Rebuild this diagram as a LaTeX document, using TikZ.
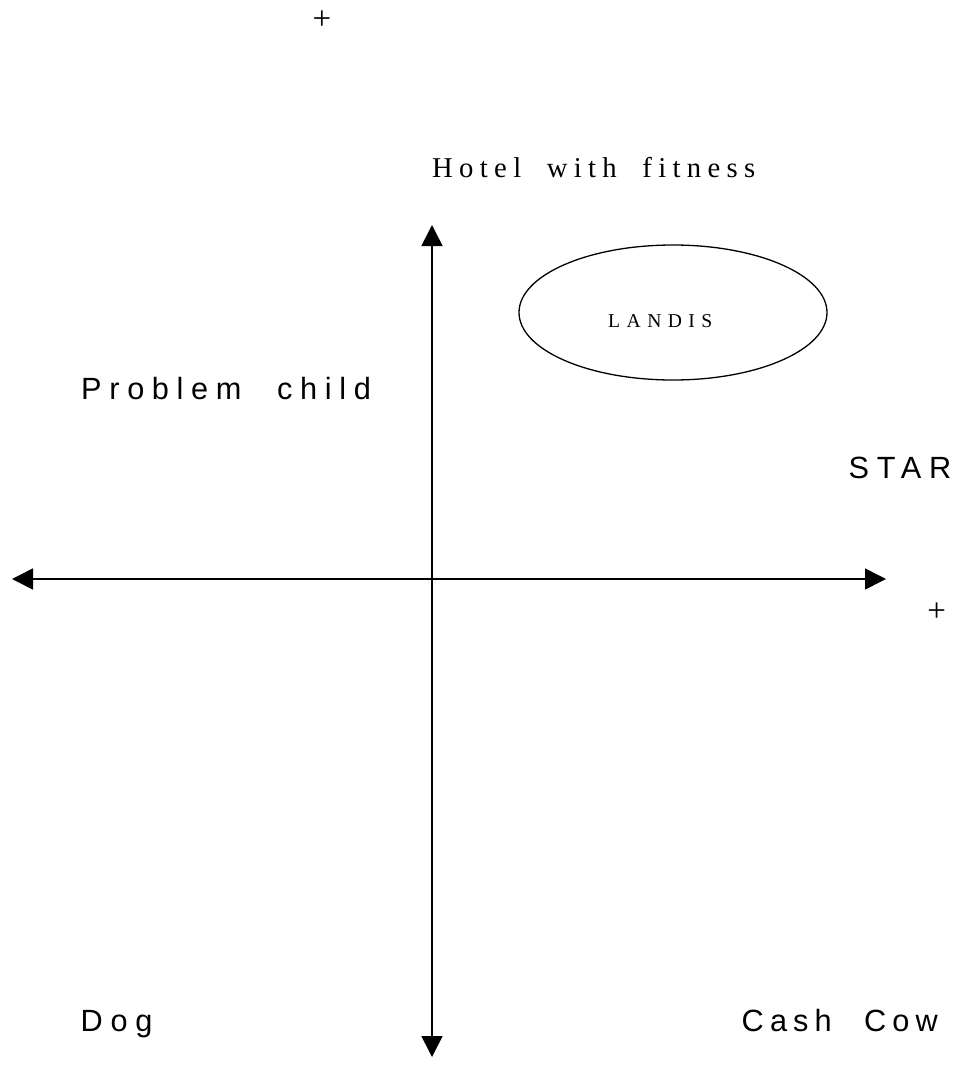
\documentclass[tikz,border=0pt]{standalone}
\usepackage{fontspec}
\setmainfont{Liberation Serif}
\newfontfamily\axisfont[LetterSpace=25,WordSpace=2.2]{Liberation Sans}
\newfontfamily\cowfont[LetterSpace=20,WordSpace=2.2]{Liberation Sans}
\newfontfamily\titlefont[LetterSpace=22,WordSpace=1.9]{Liberation Serif}
\newfontfamily\brandfont[LetterSpace=33]{Liberation Serif}
\usetikzlibrary{arrows.meta,shapes.geometric}

\tikzset{
  axis/.style={line width=1.6pt, {Triangle[length=21pt,width=21pt]}-{Triangle[length=21pt,width=21pt]}},
  quadrant/.style={anchor=base west, inner sep=0pt, font=\axisfont\fontsize{30.7}{36}\selectfont},
  heading/.style={anchor=base west, inner sep=0pt, font=\titlefont\fontsize{28.7}{34}\selectfont},
  brand/.style={anchor=base west, inner sep=0pt, font=\brandfont\fontsize{19.6}{24}\selectfont},
  bubble/.style={draw, ellipse, line width=1.3pt, minimum width=308pt, minimum height=135pt, inner sep=0pt},
  marker/.style={anchor=center, inner sep=0pt, font=\fontsize{33}{38}\selectfont}
}

\begin{document}
\begin{tikzpicture}[x=1pt,y=1pt]
  \useasboundingbox (0,0) rectangle (964,-1084);

  % axes
  \coordinate (top) at (432,-225);
  \coordinate (bottom) at (432,-1057);
  \coordinate (left) at (12,-579);
  \coordinate (right) at (886,-579);
  \draw[axis] (bottom) -- (top);
  \draw[axis] (left) -- (right);

  % product bubble
  \node[bubble] (landis) at (673,-312.5) {};
  \node[brand] (landislabel) at (608,-327) {LANDIS};

  % labels
  \node[heading] (hotel) at (432,-177) {Hotel with fitness};
  \node[quadrant] (problem) at (81,-399) {Problem child};
  \node[quadrant] (star) at (848.5,-478) {STAR};
  \node[quadrant] (dog) at (80.5,-1031) {Dog};
  \node[quadrant, font=\cowfont\fontsize{30.7}{36}\selectfont] (cow) at (741.5,-1031) {Cash Cow};

  % plus markers
  \node[marker] (plustop) at (322,-20) {+};
  \node[marker] (plusright) at (936.7,-611.7) {+};
\end{tikzpicture}
\end{document}
